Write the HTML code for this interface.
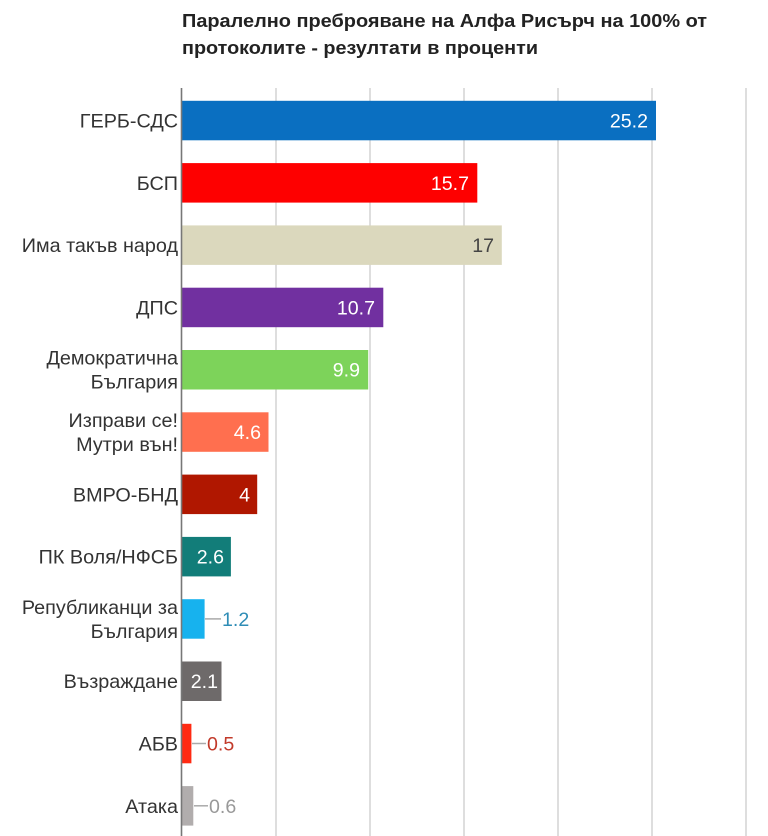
<!DOCTYPE html>
<html><head><meta charset="utf-8"><style>
html,body{margin:0;padding:0;background:#fff;}
svg{display:block;}
text{font-family:"Liberation Sans",Arial,sans-serif;}
</style></head><body>
<svg width="768" height="836" viewBox="0 0 768 836" xmlns="http://www.w3.org/2000/svg">
<rect width="768" height="836" fill="#fff"/>
<text x="182" y="27" font-size="18" font-weight="bold" fill="#222" textLength="525" lengthAdjust="spacingAndGlyphs">Паралелно преброяване на Алфа Рисърч на 100% от</text>
<text x="182" y="54" font-size="18" font-weight="bold" fill="#222" textLength="356" lengthAdjust="spacingAndGlyphs">протоколите - резултати в проценти</text>
<g stroke="#dedede" stroke-width="2">
<line x1="276" y1="88" x2="276" y2="836"/>
<line x1="370" y1="88" x2="370" y2="836"/>
<line x1="464" y1="88" x2="464" y2="836"/>
<line x1="558" y1="88" x2="558" y2="836"/>
<line x1="652" y1="88" x2="652" y2="836"/>
<line x1="746" y1="88" x2="746" y2="836"/>
</g>
<g>
<rect x="182" y="100.8" width="474" height="39.5" fill="#0a6fc1"/>
<rect x="182" y="163.1" width="295.3" height="39.5" fill="#fe0000"/>
<rect x="182" y="225.4" width="319.8" height="39.5" fill="#dbd8bd"/>
<rect x="182" y="287.7" width="201.3" height="39.5" fill="#7130a0"/>
<rect x="182" y="350.0" width="186.2" height="39.5" fill="#7dd35a"/>
<rect x="182" y="412.3" width="86.5" height="39.5" fill="#ff6f4f"/>
<rect x="182" y="474.6" width="75.2" height="39.5" fill="#b01700"/>
<rect x="182" y="536.9" width="48.9" height="39.5" fill="#127d79"/>
<rect x="182" y="599.2" width="22.6" height="39.5" fill="#17b2ee"/>
<rect x="182" y="661.5" width="39.5" height="39.5" fill="#6e6a6a"/>
<rect x="182" y="723.8" width="9.4" height="39.5" fill="#ff2a12"/>
<rect x="182" y="786.1" width="11.3" height="39.5" fill="#b1adad"/>
</g>
<line x1="181.5" y1="88" x2="181.5" y2="836" stroke="#777" stroke-width="1.6"/>
<g font-size="19.6" fill="#fff" text-anchor="end">
<text x="648" y="127.5">25.2</text>
<text x="469" y="189.8">15.7</text>
<text x="494" y="252.1" fill="#444">17</text>
<text x="375" y="314.4">10.7</text>
<text x="360" y="376.7">9.9</text>
<text x="261" y="439">4.6</text>
<text x="250" y="501.3">4</text>
<text x="224" y="563.6">2.6</text>
<text x="218" y="688.2">2.1</text>
</g>
<g stroke="#aaa" stroke-width="1.5">
<line x1="205" y1="618.9" x2="221" y2="618.9"/>
<line x1="192" y1="743.5" x2="206" y2="743.5"/>
<line x1="194" y1="805.8" x2="208" y2="805.8"/>
</g>
<g font-size="19.6">
<text x="222" y="625.9" fill="#2f8db6">1.2</text>
<text x="207" y="750.5" fill="#c23a2a">0.5</text>
<text x="209" y="812.8" fill="#999">0.6</text>
</g>
<g font-size="19.8" fill="#333" text-anchor="end">
<text x="178" y="127.5">ГЕРБ-СДС</text>
<text x="178" y="189.8">БСП</text>
<text x="178" y="252.1">Има такъв народ</text>
<text x="178" y="314.4">ДПС</text>
<text x="178" y="364.7">Демократична</text>
<text x="178" y="388.7">България</text>
<text x="178" y="427">Изправи се!</text>
<text x="178" y="451">Мутри вън!</text>
<text x="178" y="501.3">ВМРО-БНД</text>
<text x="178" y="563.6">ПК Воля/НФСБ</text>
<text x="178" y="613.9">Републиканци за</text>
<text x="178" y="637.9">България</text>
<text x="178" y="688.2">Възраждане</text>
<text x="178" y="750.5">АБВ</text>
<text x="178" y="812.8">Атака</text>
</g>
</svg>
</body></html>
